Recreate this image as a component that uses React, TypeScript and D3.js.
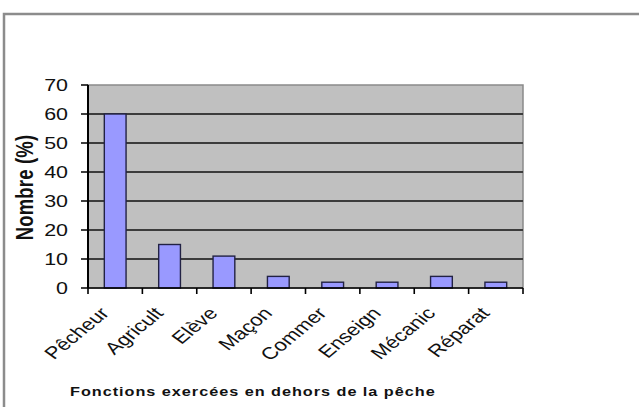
import * as d3 from 'd3'

const categories = ['Pêcheur', 'Agricult', 'Elève', 'Maçon', 'Commer', 'Enseign', 'Mécanic', 'Réparat']
const values = [60, 15, 11, 4, 2, 2, 4, 2]
const yTicks = [0, 10, 20, 30, 40, 50, 60, 70]
const yTitle = 'Nombre (%)'
const xTitle = 'Fonctions exercées en dehors de la pêche'

// the source picture is stretched sideways, so text gets the same squash
const SX = 1.3

export default function App() {
  const width = 639
  const height = 407
  const margin = { top: 85, right: 116, bottom: 119, left: 88 }
  const x0 = margin.left
  const x1 = width - margin.right
  const y0 = height - margin.bottom
  const y1 = margin.top

  const x = d3.scaleBand<string>().domain(categories).range([x0, x1]).padding(0)
  const xBar = d3
    .scaleBand<string>()
    .domain(categories)
    .range([x0, x1])
    .paddingInner(0.6)
    .paddingOuter(0.3)
  const y = d3.scaleLinear().domain([0, 70]).range([y0, y1])

  const bounds = [...categories.map((c) => x(c) as number), x1]
  const font = 'Arial, "Liberation Sans", sans-serif'

  return (
    <svg
      width={width}
      height={height}
      style={{ position: 'absolute', left: 0, top: 0, background: '#fff' }}
    >
      {/* outer chart frame */}
      <rect x={4} y={14} width={720} height={520} fill="none" stroke="#8c8c8c" strokeWidth={2.5} />

      {/* plot area */}
      <rect x={x0} y={y1} width={x1 - x0} height={y0 - y1} fill="#c0c0c0" stroke="#8a8a8a" strokeWidth={1.5} />

      {/* gridlines */}
      {yTicks
        .filter((t) => t > 0 && t < 70)
        .map((t) => (
          <line key={'g' + t} x1={x0} x2={x1} y1={y(t)} y2={y(t)} stroke="#3c3c3c" strokeWidth={1.8} />
        ))}

      {/* bars */}
      {categories.map((c, i) => (
        <rect
          key={c}
          x={xBar(c)}
          y={y(values[i])}
          width={xBar.bandwidth()}
          height={y(0) - y(values[i])}
          fill="#9999ff"
          stroke="#222244"
          strokeWidth={1.4}
        />
      ))}

      {/* y axis */}
      <line x1={x0} x2={x0} y1={y1} y2={y0} stroke="#000" strokeWidth={2} />
      {yTicks.map((t) => (
        <g key={'y' + t}>
          <line x1={x0 - 7} x2={x0} y1={y(t)} y2={y(t)} stroke="#000" strokeWidth={1.5} />
          <text
            transform={`translate(${x0 - 20},${y(t)}) scale(${SX},1)`}
            textAnchor="end"
            dominantBaseline="central"
            fontFamily={font}
            fontSize={16.5}
            fill="#111"
          >
            {t}
          </text>
        </g>
      ))}
      <text
        transform={`translate(25,${(y1 + y0) / 2 + 1}) scale(${SX},1) rotate(-90)`}
        textAnchor="middle"
        dominantBaseline="central"
        fontFamily={font}
        fontWeight="bold"
        fontSize={18.5}
        letterSpacing={0.2}
        fill="#111"
      >
        {yTitle}
      </text>

      {/* x axis */}
      <line x1={x0} x2={x1} y1={y0} y2={y0} stroke="#000" strokeWidth={1.6} />
      {bounds.map((b, i) => (
        <line key={'t' + i} x1={b} x2={b} y1={y0} y2={y0 + 6} stroke="#000" strokeWidth={1.6} />
      ))}
      {categories.map((c) => (
        <text
          key={'l' + c}
          transform={`translate(${(x(c) as number) + x.bandwidth() / 2 - 5},${y0 + 26}) scale(${SX},1) rotate(-47)`}
          textAnchor="end"
          fontFamily={font}
          fontSize={17}
          fill="#111"
        >
          {c}
        </text>
      ))}
      <text
        transform={`translate(70,396) scale(${SX},1)`}
        fontFamily={font}
        fontWeight="bold"
        fontSize={12.5}
        letterSpacing={0.75}
        fill="#111"
      >
        {xTitle}
      </text>
    </svg>
  )
}
